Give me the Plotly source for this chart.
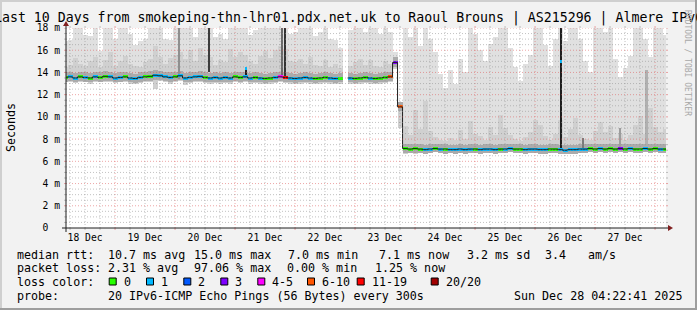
import plotly.graph_objects as go
import pandas as pd

# ---------------- data ----------------
t_start = "2025-12-18 04:22:41"
t_end = "2025-12-28 04:22:41"

times = pd.date_range("2025-12-18 04:00", periods=121, freq="2h")

median = [
    13.55, 13.6, 13.5, 13.6, 13.55, 13.5, 13.6, 13.55, 13.65, 13.6,
    13.5, 13.55, 13.6, 13.5, 13.45, 13.55, 13.6, 13.65, 13.75, 13.7,
    13.6, 13.55, 13.6, 13.7, 13.5, 13.55, 13.6, 13.65, 13.55, 13.5,
    13.55, 13.5, 13.55, 13.5, 13.6, 13.55, 13.6, 13.5, 13.55, 13.5,
    13.45, 13.5, 13.55, 13.6, 13.55, 13.5, 13.45, 13.5, 13.55, 13.5,
    13.45, 13.5, 13.55, 13.5, 13.45, 13.5, None, 13.5, 13.45, 13.5,
    13.55, 13.5, 13.45, 13.5, 13.55, 13.6, 14.9, 10.9,
    7.15, 7.1, 7.15, 7.1, 7.05, 7.1, 7.15, 7.1, 7.1, 7.05,
    7.05, 7.1, 7.05, 7.1, 7.1, 7.05, 7.1, 7.1, 7.05, 7.1,
    7.1, 7.15, 7.1, 7.1, 7.05, 7.1, 7.1, 7.05, 7.05, 7.1,
    7.1, 7.05, 7.0, 7.05, 7.05, 7.1, 7.1, 7.15, 7.1, 7.15,
    7.1, 7.15, 7.1, 7.15, 7.1, 7.15, 7.1, 7.1, 7.15, 7.1,
    7.15, 7.1, 7.1,
]

# loss class index: 0 -> "0", 1 -> "1", 2 -> "2", 3 -> "3", 4 -> "4-5",
# 5 -> "6-10", 6 -> "11-19", 7 -> "20/20"
loss = [
    0, 1, 1, 0, 1, 0, 1, 0, 0, 1,
    1, 1, 0, 1, 1, 1, 0, 0, 1, 1,
    1, 1, 0, 1, 1, 1, 1, 1, 0, 1,
    1, 1, 1, 1, 0, 0, 1, 1, 0, 1,
    0, 0, 1, 4, 6, 1, 1, 1, 1, 1,
    0, 0, 0, 1, 1, 0, 0, 1, 0, 0,
    0, 1, 0, 0, 0, 5, 3, 5,
    0, 0, 0, 0, 1, 1, 0, 1, 0, 1,
    1, 1, 1, 1, 0, 1, 1, 1, 1, 0,
    1, 1, 0, 0, 1, 1, 1, 1, 1, 0,
    0, 1, 1, 1, 1, 1, 1, 0, 0, 1,
    0, 0, 0, 3, 0, 1, 0, 0, 1, 0,
    0, 1, 0,
]

smoke_lo = [
    13.1, 13.15, 13.05, 13.1, 13.1, 13.0, 13.1, 13.1, 13.15, 13.1,
    13.05, 13.1, 13.1, 13.0, 13.0, 13.05, 13.1, 13.1, 12.5, 13.2,
    13.1, 13.0, 13.1, 13.2, 12.9, 13.05, 13.1, 13.1, 13.05, 13.0,
    13.05, 13.0, 13.05, 13.0, 13.1, 13.05, 13.1, 13.0, 13.05, 13.0,
    12.95, 13.0, 13.05, 13.1, 13.05, 13.0, 12.95, 13.0, 13.05, 13.0,
    12.95, 13.0, 13.05, 13.0, 12.95, 13.0, None, 13.0, 12.95, 13.0,
    13.05, 13.0, 12.95, 13.0, 13.05, 13.1, 14.3, 9.0,
    6.7, 6.75, 6.7, 6.75, 6.7, 6.75, 6.8, 6.75, 6.7, 6.75,
    6.7, 6.75, 6.7, 6.75, 6.75, 6.7, 6.75, 6.75, 6.7, 6.75,
    6.75, 6.8, 6.75, 6.75, 6.7, 6.75, 6.75, 6.7, 6.7, 6.75,
    6.75, 6.7, 6.65, 6.7, 6.7, 6.75, 6.75, 6.8, 6.75, 6.8,
    6.75, 6.8, 6.75, 6.8, 6.75, 6.8, 6.75, 6.75, 6.8, 6.75,
    6.8, 6.75, 6.75,
]

smoke_mid = [
    14.5, 14.7, 15.3, 14.8, 14.6, 15.0, 15.4, 14.5, 15.1, 15.8,
    14.6, 15.0, 15.5, 14.8, 14.6, 14.5, 14.9, 15.2, 16.4, 15.4,
    14.8, 15.3, 15.6, 15.8, 15.2, 16.0, 15.0, 16.2, 15.6, 15.4,
    14.7, 15.1, 14.9, 16.1, 15.4, 15.8, 15.6, 15.0, 14.8, 15.5,
    15.9, 15.3, 16.0, 16.4, 16.1, 15.0, 14.9, 15.2, 14.8, 15.4,
    14.7, 14.6, 15.1, 14.5, 14.8, 14.4, None, 14.6, 14.9, 15.2,
    14.7, 15.1, 14.6, 14.5, 15.0, 14.8, 15.3, 11.0,
    9.2, 8.4, 10.6, 8.9, 11.4, 8.7, 8.2, 7.9, 7.8, 8.1,
    7.9, 8.8, 8.0, 9.6, 8.5, 8.3, 7.9, 9.1, 8.4, 10.2,
    9.0, 8.4, 8.0, 7.8, 8.2, 8.6, 9.7, 9.3, 8.3, 7.9,
    8.5, 9.7, 8.2, 8.9, 9.9, 8.4, 8.0, 7.9, 8.7, 9.5,
    8.6, 9.2, 8.1, 8.5, 7.9, 8.4, 9.3, 10.1, 8.5, 10.8,
    9.1, 8.6, 8.9,
]

smoke_hi = [
    16.8, 16.9, 18.0, 18.0, 17.4, 17.3, 18.0, 15.9, 18.0, 18.0,
    17.0, 18.0, 18.0, 17.5, 16.5, 16.8, 17.0, 18.0, 18.0, 18.0,
    17.0, 16.9, 18.0, 18.0, 18.0, 18.0, 17.2, 18.0, 18.0, 18.0,
    17.2, 17.5, 17.0, 18.0, 18.0, 18.0, 18.0, 17.4, 17.8, 18.0,
    18.0, 18.0, 18.0, 18.0, 18.0, 17.5, 17.6, 18.0, 18.0, 18.0,
    17.3, 17.6, 18.0, 17.0, 16.9, 16.2, None, 17.8, 18.0, 18.0,
    17.6, 18.0, 18.0, 17.5, 18.0, 17.6, 15.8, 11.3,
    18.0, 17.2, 18.0, 16.4, 18.0, 17.0, 15.8, 13.9, 12.6, 14.2,
    13.0, 15.2, 14.0, 18.0, 17.5, 16.0, 15.0, 16.6, 17.2, 18.0,
    18.0, 16.2, 14.5, 13.2, 14.8, 15.6, 18.0, 18.0, 16.5, 14.6,
    17.0, 18.0, 16.8, 18.0, 18.0, 17.0, 15.0, 14.0, 18.0, 18.0,
    17.6, 18.0, 15.2, 13.6, 14.4, 15.5, 18.0, 18.0, 17.0, 15.4,
    18.0, 18.0, 17.4,
]

# narrow high-spread columns (single consolidation steps)
spike_time = ["2025-12-20 01:36", "2025-12-20 13:36", "2025-12-21 04:24",
              "2025-12-21 18:48", "2025-12-21 20:00", "2025-12-26 10:24",
              "2025-12-26 19:12", "2025-12-27 10:00", "2025-12-27 20:36"]
spike_lo = [13.4, 14.0, 13.6, 13.6, 13.6, 7.0, 7.2, 7.3, 7.6]
spike_hi = [18.0, 18.0, 14.4, 18.0, 18.0, 18.0, 8.1, 9.0, 14.2]
spike_shade = ["#8f8f8f", "#3c3c3c", "#202020", "#6a6a6a", "#333333",
               "#1e1e1e", "#7a7a7a", "#9c9c9c", "#b0b0b0"]
spike_med = [None, None, 14.4, None, None, 15.0, None, None, None]
spike_loss = [0, 0, 1, 0, 0, 1, 0, 0, 0]

day_labels = ["18 Dec", "19 Dec", "20 Dec", "21 Dec", "22 Dec",
              "23 Dec", "24 Dec", "25 Dec", "26 Dec", "27 Dec"]
day_noons = [f"2025-12-{d} 12:00" for d in range(18, 28)]
y_ticks = list(range(0, 19, 2))
y_ticktext = ["0\u00a0\u00a0"] + [f"{v} m" for v in y_ticks[1:]]

loss_labels = ["0", "1", "2", "3", "4-5", "6-10", "11-19", "20/20"]
loss_colors = ["#26ff00", "#00b8ff", "#0059ff", "#7e00ff",
               "#ff00ff", "#ff5500", "#ff0000", "#a10000"]

# ---------------- layout constants ----------------
W, H = 697, 310
L, R, T, B = 66, 31, 28, 82
PW, PH = W - L - R, H - T - B
MONO = "DejaVu Sans Mono"
STEP_MS = 2 * 3600 * 1000


def px(x):
    return (x - L) / PW


def py(y):
    return (H - B - y) / PH


def nz(a, b, f):
    return [None if (u is None or v is None) else f(u, v) for u, v in zip(a, b)]


fig = go.Figure()

# light smoke
fig.add_bar(x=times, base=smoke_lo, y=nz(smoke_hi, smoke_lo, lambda h, l: h - l),
            width=STEP_MS, marker=dict(color="#e0e0e0", line_width=0))
# medium smoke
fig.add_bar(x=times, base=smoke_lo, y=nz(smoke_mid, smoke_lo, lambda h, l: h - l),
            width=STEP_MS, marker=dict(color="#d0d0d0", line_width=0))
# dense smoke around median
fig.add_bar(x=times, base=nz(median, smoke_lo, lambda m, l: max(l, m - 0.4)),
            y=nz(median, smoke_lo, lambda m, l: m + 0.45 - max(l, m - 0.4)),
            width=STEP_MS, marker=dict(color="#ababab", line_width=0))
# spikes
fig.add_bar(x=spike_time, base=spike_lo, y=[h - l for h, l in zip(spike_hi, spike_lo)],
            width=STEP_MS / 2, marker=dict(color=spike_shade, line_width=0))
# median step line
edges = list(times - pd.Timedelta(hours=1)) + [times[-1] + pd.Timedelta(hours=1)]
fig.add_scatter(x=edges, y=median + [median[-1]], mode="lines",
                line=dict(shape="hv", color="#202020", width=1), connectgaps=False)
# loss-coloured median
fig.add_bar(x=times, base=[None if m is None else m - 0.135 for m in median],
            y=[None if m is None else 0.27 for m in median],
            width=STEP_MS, marker=dict(color=[loss_colors[i] for i in loss], line_width=0))
fig.add_bar(x=spike_time, base=[None if m is None else m - 0.135 for m in spike_med],
            y=[None if m is None else 0.27 for m in spike_med],
            width=STEP_MS / 2,
            marker=dict(color=[loss_colors[i] for i in spike_loss], line_width=0))

shapes = []
GRID = "rgba(143,143,143,0.55)"
MGRID = "rgba(222,79,79,0.5)"
DASH = "1px,2px"
# vertical grid
for t in pd.date_range("2025-12-18 06:00", "2025-12-28 00:00", freq="6h"):
    c = MGRID if t.hour == 0 else GRID
    shapes.append(dict(type="line", xref="x", yref="paper", x0=t, x1=t, y0=0, y1=1,
                       line=dict(color=c, width=1, dash=DASH), layer="above"))
    shapes.append(dict(type="line", xref="x", yref="paper", x0=t, x1=t, y0=-2 / PH, y1=0,
                       line=dict(color=c, width=1), layer="above"))
    shapes.append(dict(type="line", xref="x", yref="paper", x0=t, x1=t, y0=1, y1=1 + 2 / PH,
                       line=dict(color=c, width=1), layer="above"))
# horizontal grid
for k in range(1, 37):
    v = k * 0.5
    c = MGRID if k % 4 == 0 else GRID
    shapes.append(dict(type="line", xref="paper", yref="y", x0=0, x1=1, y0=v, y1=v,
                       line=dict(color=c, width=1, dash=DASH), layer="above"))
    shapes.append(dict(type="line", xref="paper", yref="y", x0=-2 / PW, x1=0, y0=v, y1=v,
                       line=dict(color=c, width=1), layer="above"))
    shapes.append(dict(type="line", xref="paper", yref="y", x0=1, x1=1 + 2 / PW, y0=v, y1=v,
                       line=dict(color=c, width=1), layer="above"))

# axes + arrows
AX = "#1f1f1f"
ARROW = "#801f1f"
shapes.append(dict(type="line", xref="paper", yref="paper", x0=px(62), x1=px(670),
                   y0=0, y1=0, line=dict(color=AX, width=1), layer="above"))
shapes.append(dict(type="line", xref="paper", yref="paper", x0=0, x1=0,
                   y0=py(232), y1=py(24), line=dict(color=AX, width=1), layer="above"))
shapes.append(dict(type="path", xref="paper", yref="paper",
                   path=f"M {px(668)},{py(225)} L {px(668)},{py(231)} L {px(673)},{py(228)} Z",
                   fillcolor=ARROW, line=dict(width=0), layer="above"))
shapes.append(dict(type="path", xref="paper", yref="paper",
                   path=f"M {px(63)},{py(26)} L {px(69)},{py(26)} L {px(66)},{py(21)} Z",
                   fillcolor=ARROW, line=dict(width=0), layer="above"))
# frame
for (x0, y0, x1, y1, c) in [(0, 0, W, 2, "#cfcfcf"), (0, 0, 2, H, "#cfcfcf"),
                            (0, H - 2, W, H, "#9e9e9e"), (W - 2, 0, W, H, "#9e9e9e")]:
    shapes.append(dict(type="rect", xref="paper", yref="paper", x0=px(x0), x1=px(x1),
                       y0=py(y1), y1=py(y0), fillcolor=c, line=dict(width=0), layer="above"))

annotations = []


def text(s, x, y, size=11.67, color="#000000", anchor="left", angle=0):
    annotations.append(dict(text=s, x=px(x), y=py(y), xref="paper", yref="paper",
                            xanchor=anchor, yanchor="middle", showarrow=False,
                            borderpad=0, textangle=angle,
                            font=dict(family=MONO, size=size, color=color)))


text("Last 10 Days from smokeping-thn-lhr01.pdx.net.uk to Raoul Brouns | AS215296 | Almere IPv6",
     348.5, 18.5, size=13.24, anchor="center")
text("Seconds", 11, 128, anchor="center", angle=-90)
text("RRDTOOL / TOBI OETIKER", 688, 63, size=8, color="#a8a8a8", anchor="center", angle=90)

# legend rows
row1 = [("median rtt:", 16), ("10.7 ms avg", 107.3), ("15.0 ms max", 192.7),
        ("7.0 ms min", 287.3), ("7.1 ms now", 377.5), ("3.2 ms sd", 466), ("3.4", 544),
        ("am/s", 586.7)]
row2 = [("packet loss:", 16), ("2.31 % avg", 107.3), ("97.06 % max", 193.3),
        ("0.00 % min", 286), ("1.25 % now", 374)]
row4 = [("probe:", 16), ("20 IPv6-ICMP Echo Pings (56 Bytes) every 300s", 107.3),
        ("Sun Dec 28 04:22:41 2025", 513.3)]
for s, x in row1:
    text(s, x, 254.5)
for s, x in row2:
    text(s, x, 268.3)
for s, x in row4:
    text(s, x, 296)
text("loss color:", 16, 282)
box_x = [108.7, 146, 183.3, 220.3, 257.3, 307, 356.7, 430.7]
for lbl, col, bx in zip(loss_labels, loss_colors, box_x):
    shapes.append(dict(type="rect", xref="paper", yref="paper", x0=px(bx + 0.5), x1=px(bx + 7.5),
                       y0=py(285), y1=py(278), fillcolor=col,
                       line=dict(color="#000000", width=1), layer="above"))
    text(lbl, bx + 14, 282)

fig.update_layout(
    width=W, height=H, margin=dict(l=L, r=R, t=T, b=B, pad=0),
    paper_bgcolor="#f2f2f2", plot_bgcolor="#ffffff",
    barmode="overlay", bargap=0, showlegend=False,
    shapes=shapes, annotations=annotations,
    xaxis=dict(type="date", range=[t_start, t_end], showgrid=False, zeroline=False,
               showline=False, ticks="", tickvals=day_noons, ticktext=day_labels,
               ticklabelstandoff=2,
               tickfont=dict(family=MONO, size=9.7, color="#000000"), fixedrange=True),
    yaxis=dict(range=[0, 18], showgrid=False, zeroline=False, showline=False, ticks="",
               tickvals=y_ticks, ticktext=y_ticktext, ticklabelstandoff=5,
               tickfont=dict(family=MONO, size=9.7, color="#000000"), fixedrange=True),
)

fig.write_html("out.html")
